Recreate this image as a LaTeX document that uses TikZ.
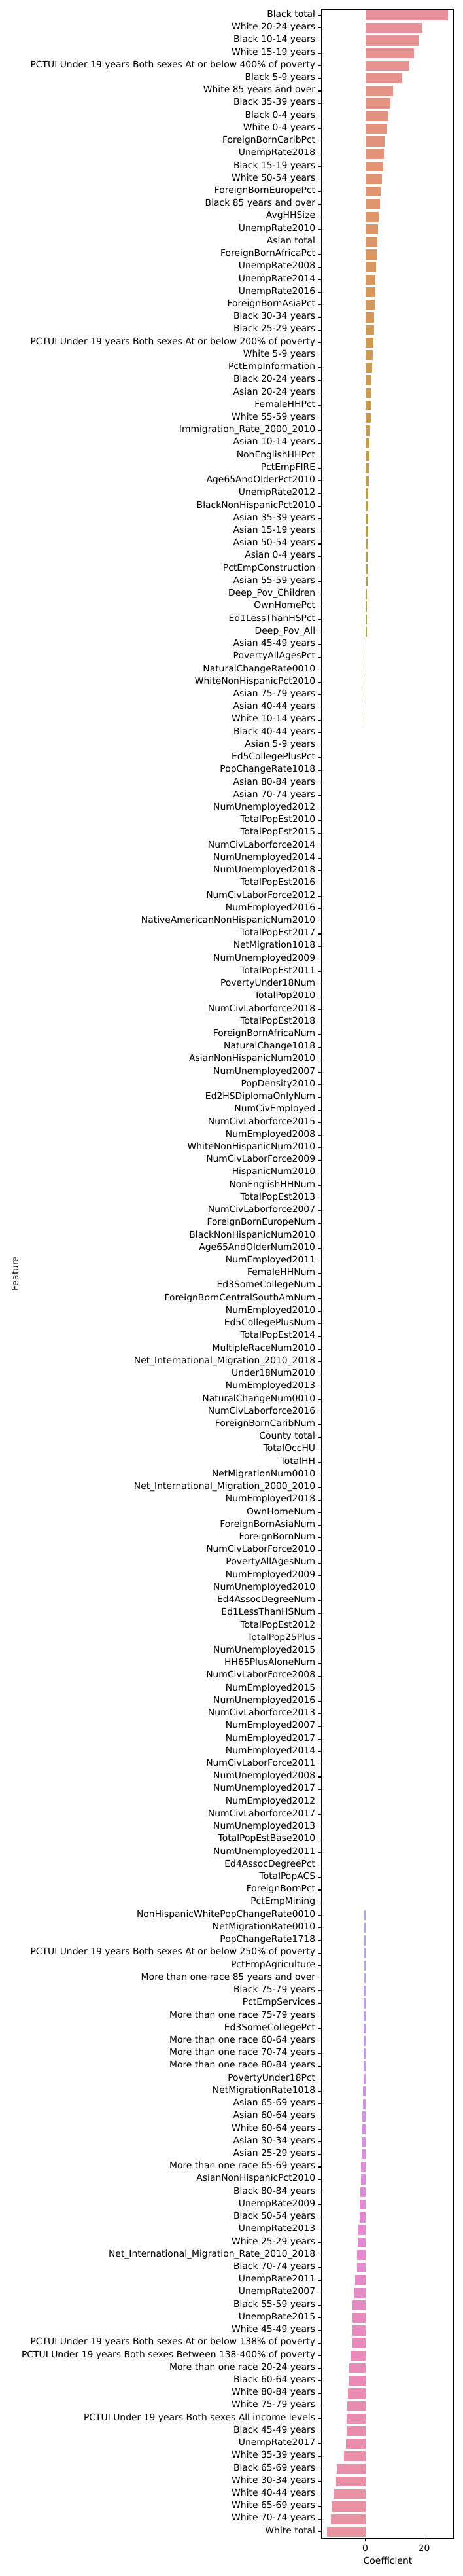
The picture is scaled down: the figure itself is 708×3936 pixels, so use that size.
\documentclass[tikz,border=0pt]{standalone}
\usepackage{fontspec}
\setmainfont{DejaVu Sans}
\usepackage{xcolor}
\usepackage{tikz}
\usetikzlibrary{calc}
\usetikzlibrary{arrows.meta}
\tikzset{>=latex}
\definecolor{hueA}{RGB}{232,145,155}
\definecolor{hueB}{RGB}{226,148,114}
\definecolor{hueC}{RGB}{206,153,86}
\definecolor{hueD}{RGB}{184,158,76}
\definecolor{hueE}{RGB}{163,162,75}
\definecolor{hueF}{RGB}{150,165,76}
\definecolor{hueG}{RGB}{180,163,236}
\definecolor{hueH}{RGB}{205,150,232}
\definecolor{hueI}{RGB}{228,136,214}
\definecolor{hueJ}{RGB}{234,138,182}
\definecolor{hueK}{RGB}{232,147,160}
\tikzstyle{lab} = [anchor=mid east, inner sep=0pt, font=\fontsize{13.9}{16}\selectfont]
\tikzstyle{tlab} = [anchor=north, inner sep=0pt, font=\fontsize{13.9}{16}\selectfont]
\tikzstyle{tick} = [line width=1.1pt, draw=black]
\tikzstyle{spine} = [line width=1.1pt, draw=black, line join=miter]
\newcommand\pickhue[1]{%
  \ifnum#1<14 \pgfmathtruncatemacro\mixp{100*(14-#1)/13}\colorlet{barhue}{hueA!\mixp!hueB}%
  \else\ifnum#1<27 \pgfmathtruncatemacro\mixp{100*(27-#1)/13}\colorlet{barhue}{hueB!\mixp!hueC}%
  \else\ifnum#1<40 \pgfmathtruncatemacro\mixp{100*(40-#1)/13}\colorlet{barhue}{hueC!\mixp!hueD}%
  \else\ifnum#1<52 \pgfmathtruncatemacro\mixp{100*(52-#1)/12}\colorlet{barhue}{hueD!\mixp!hueE}%
  \else\ifnum#1<100 \pgfmathtruncatemacro\mixp{100*(58-#1)/6}\colorlet{barhue}{hueE!\mixp!hueF}%
  \else\ifnum#1<164 \pgfmathtruncatemacro\mixp{100*(164-#1)/12}\colorlet{barhue}{hueG!\mixp!hueH}%
  \else\ifnum#1<176 \pgfmathtruncatemacro\mixp{100*(176-#1)/12}\colorlet{barhue}{hueH!\mixp!hueI}%
  \else\ifnum#1<189 \pgfmathtruncatemacro\mixp{100*(189-#1)/13}\colorlet{barhue}{hueI!\mixp!hueJ}%
  \else \pgfmathtruncatemacro\mixp{100*(201-#1)/12}\colorlet{barhue}{hueJ!\mixp!hueK}%
  \fi\fi\fi\fi\fi\fi\fi\fi}

\begin{document}
\begin{tikzpicture}[x=1pt, y=-1pt]
\useasboundingbox (0,0) rectangle (708,3936);
\foreach \lab/\val [count=\i] in {
Black total/28, White 20-24 years/19.5, Black 10-14 years/18, White 15-19 years/16.5,
PCTUI Under 19 years Both sexes At or below 400\% of poverty/15, Black 5-9 years/12.5,
White 85 years and over/9.5, Black 35-39 years/8.5, Black 0-4 years/7.8, White 0-4 years/7.5,
ForeignBornCaribPct/6.5, UnempRate2018/6.3, Black 15-19 years/6.1, White 50-54 years/5.6,
ForeignBornEuropePct/5.3, Black 85 years and over/5.0, AvgHHSize/4.5, UnempRate2010/4.3,
Asian total/4.1, ForeignBornAfricaPct/3.9, UnempRate2008/3.7, UnempRate2014/3.5,
UnempRate2016/3.4, ForeignBornAsiaPct/3.3, Black 30-34 years/3.1, Black 25-29 years/2.9,
PCTUI Under 19 years Both sexes At or below 200\% of poverty/2.7, White 5-9 years/2.5,
PctEmpInformation/2.3, Black 20-24 years/2.2, Asian 20-24 years/2.0, FemaleHHPct/1.9,
White 55-59 years/1.8, Immigration\_Rate\_2000\_2010/1.6, Asian 10-14 years/1.5,
NonEnglishHHPct/1.4, PctEmpFIRE/1.3, Age65AndOlderPct2010/1.2, UnempRate2012/1.1,
BlackNonHispanicPct2010/1.0, Asian 35-39 years/0.95, Asian 15-19 years/0.9,
Asian 50-54 years/0.85, Asian 0-4 years/0.8, PctEmpConstruction/0.75, Asian 55-59 years/0.7,
Deep\_Pov\_Children/0.65, OwnHomePct/0.6, Ed1LessThanHSPct/0.55, Deep\_Pov\_All/0.5,
Asian 45-49 years/0.12, PovertyAllAgesPct/0.12, NaturalChangeRate0010/0.11,
WhiteNonHispanicPct2010/0.1, Asian 75-79 years/0.1, Asian 40-44 years/0.1,
White 10-14 years/0.1, Black 40-44 years/0, Asian 5-9 years/0, Ed5CollegePlusPct/0,
PopChangeRate1018/0, Asian 80-84 years/0, Asian 70-74 years/0, NumUnemployed2012/0,
TotalPopEst2010/0, TotalPopEst2015/0, NumCivLaborforce2014/0, NumUnemployed2014/0,
NumUnemployed2018/0, TotalPopEst2016/0, NumCivLaborForce2012/0, NumEmployed2016/0,
NativeAmericanNonHispanicNum2010/0, TotalPopEst2017/0, NetMigration1018/0,
NumUnemployed2009/0, TotalPopEst2011/0, PovertyUnder18Num/0, TotalPop2010/0,
NumCivLaborforce2018/0, TotalPopEst2018/0, ForeignBornAfricaNum/0, NaturalChange1018/0,
AsianNonHispanicNum2010/0, NumUnemployed2007/0, PopDensity2010/0, Ed2HSDiplomaOnlyNum/0,
NumCivEmployed/0, NumCivLaborforce2015/0, NumEmployed2008/0, WhiteNonHispanicNum2010/0,
NumCivLaborForce2009/0, HispanicNum2010/0, NonEnglishHHNum/0, TotalPopEst2013/0,
NumCivLaborforce2007/0, ForeignBornEuropeNum/0, BlackNonHispanicNum2010/0,
Age65AndOlderNum2010/0, NumEmployed2011/0, FemaleHHNum/0, Ed3SomeCollegeNum/0,
ForeignBornCentralSouthAmNum/0, NumEmployed2010/0, Ed5CollegePlusNum/0, TotalPopEst2014/0,
MultipleRaceNum2010/0, Net\_International\_Migration\_2010\_2018/0, Under18Num2010/0,
NumEmployed2013/0, NaturalChangeNum0010/0, NumCivLaborforce2016/0, ForeignBornCaribNum/0,
County total/0, TotalOccHU/0, TotalHH/0, NetMigrationNum0010/0,
Net\_International\_Migration\_2000\_2010/0, NumEmployed2018/0, OwnHomeNum/0,
ForeignBornAsiaNum/0, ForeignBornNum/0, NumCivLaborForce2010/0, PovertyAllAgesNum/0,
NumEmployed2009/0, NumUnemployed2010/0, Ed4AssocDegreeNum/0, Ed1LessThanHSNum/0,
TotalPopEst2012/0, TotalPop25Plus/0, NumUnemployed2015/0, HH65PlusAloneNum/0,
NumCivLaborForce2008/0, NumEmployed2015/0, NumUnemployed2016/0, NumCivLaborforce2013/0,
NumEmployed2007/0, NumEmployed2017/0, NumEmployed2014/0, NumCivLaborForce2011/0,
NumUnemployed2008/0, NumUnemployed2017/0, NumEmployed2012/0, NumCivLaborforce2017/0,
NumUnemployed2013/0, TotalPopEstBase2010/0, NumUnemployed2011/0, Ed4AssocDegreePct/0,
TotalPopACS/0, ForeignBornPct/0, PctEmpMining/0,
NonHispanicWhitePopChangeRate0010/-0.35, NetMigrationRate0010/-0.4, PopChangeRate1718/-0.4,
PCTUI Under 19 years Both sexes At or below 250\% of poverty/-0.4, PctEmpAgriculture/-0.42,
More than one race 85 years and over/-0.42, Black 75-79 years/-0.45, PctEmpServices/-0.45,
More than one race 75-79 years/-0.47, Ed3SomeCollegePct/-0.47,
More than one race 60-64 years/-0.5, More than one race 70-74 years/-0.6,
More than one race 80-84 years/-0.62, PovertyUnder18Pct/-0.65, NetMigrationRate1018/-0.68,
Asian 65-69 years/-0.71, Asian 60-64 years/-0.96, White 60-64 years/-0.96,
Asian 30-34 years/-1.2, Asian 25-29 years/-1.2, More than one race 65-69 years/-1.42,
AsianNonHispanicPct2010/-1.42, Black 80-84 years/-1.58, UnempRate2009/-1.82,
Black 50-54 years/-1.82, UnempRate2013/-2.31, White 25-29 years/-2.53,
Net\_International\_Migration\_Rate\_2010\_2018/-2.69, Black 70-74 years/-2.69,
UnempRate2011/-3.42, UnempRate2007/-3.64, Black 55-59 years/-4.29, UnempRate2015/-4.29,
White 45-49 years/-4.29, PCTUI Under 19 years Both sexes At or below 138\% of poverty/-4.29,
PCTUI Under 19 years Both sexes Between 138-400\% of poverty/-4.91,
More than one race 20-24 years/-5.4, Black 60-64 years/-5.64, White 80-84 years/-5.87,
White 75-79 years/-6.02, PCTUI Under 19 years Both sexes All income levels/-6.27,
Black 45-49 years/-6.27, UnempRate2017/-6.51, White 35-39 years/-7.13,
Black 65-69 years/-9.6, White 30-34 years/-9.84, White 40-44 years/-10.71,
White 65-69 years/-11.42, White 70-74 years/-11.58, White total/-12.93} {
  \pgfmathsetmacro\yc{14+(\i-0.5)*19.224}
  \ifdim\val pt=0pt\relax\else
    \pickhue{\i}
    \fill [barhue] (558.5,\yc-7.69) rectangle ({558.5+4.5*\val},\yc+7.69);
  \fi
  \draw [tick] (487.1,\yc) -- (492,\yc);
  \node [lab] (f\i) at (482.3,\yc) {\lab};
}
\draw [spine] (492,14) rectangle (694,3878);
\foreach \t in {0,20} {
  \draw [tick] ({558.5+4.5*\t},3878) -- ({558.5+4.5*\t},3882.9);
  \node [tlab] (t\t) at ({558.5+4.5*\t},3887.7) {\t};
}
\node [tlab] (X) at (593,3907) {Coefficient};
\node [rotate=90, anchor=south, inner sep=0pt, font=\fontsize{13.9}{16}\selectfont] (Y) at (28.4,1946) {Feature};
\end{tikzpicture}
\end{document}
